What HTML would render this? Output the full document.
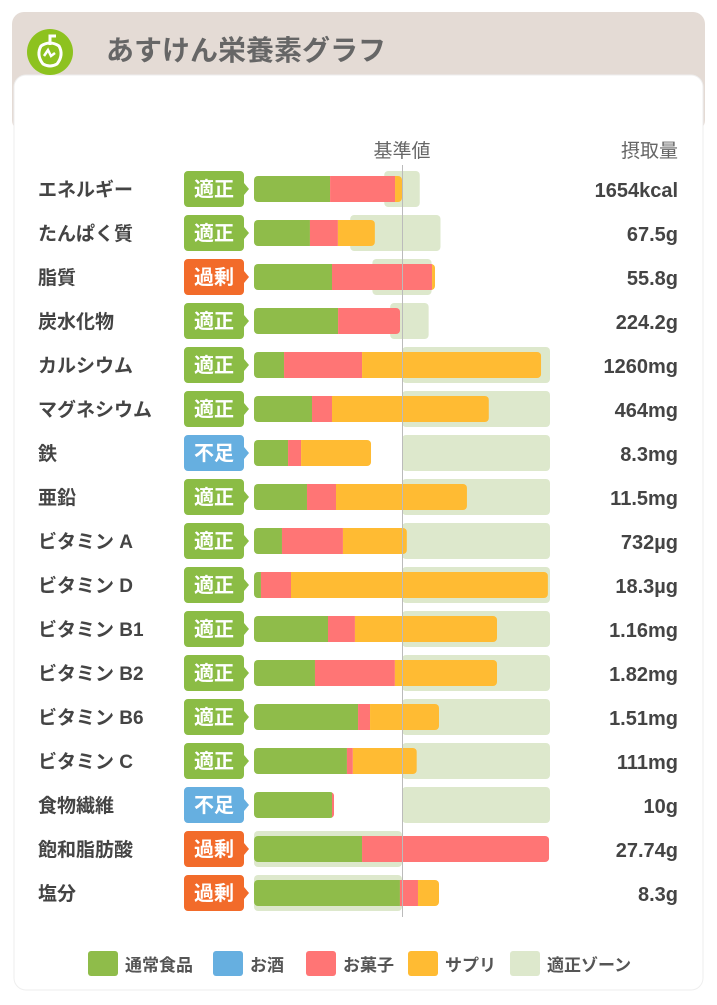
<!DOCTYPE html>
<html><head><meta charset="utf-8"><style>
body{margin:0;width:717px;height:1000px;background:#fff;overflow:hidden;font-family:"Liberation Sans","Noto Sans CJK JP",sans-serif;}
</style></head><body>
<svg id="chart" width="717" height="1000" xmlns="http://www.w3.org/2000/svg" style="font-family:'Liberation Sans','Noto Sans CJK JP',sans-serif">
<rect x="12" y="12" width="693" height="120" rx="12" fill="#e4dbd5"/>
<rect x="14" y="75" width="689" height="915" rx="12" fill="#fff" stroke="#eee"/>
<g>
<circle cx="50" cy="52" r="23" fill="#8dc21f"/>
<path d="M41 46 q9-6 18 0 q5 9-2 18 q-7 4-14 0 q-7-9-2-18z" fill="none" stroke="#fff" stroke-width="3"/>
<path d="M50 45 v-9 h6" fill="none" stroke="#fff" stroke-width="3"/>
<path d="M44 56 l4-6 l3 6 l4-3" fill="none" stroke="#fff" stroke-width="2.5"/>
</g>
<text x="106" y="60" font-size="28" fill="#666" font-weight="bold">あすけん栄養素グラフ</text>
<text x="402" y="157" font-size="19" fill="#666" text-anchor="middle">基準値</text>
<text x="678" y="157" font-size="19" fill="#666" text-anchor="end">摂取量</text>
<g id="rows"></g>
<line x1="402.5" y1="165" x2="402.5" y2="917" stroke="#bbb" stroke-width="1"/>
<g id="legend"></g>
</svg>
<script>
const names=["エネルギー","たんぱく質","脂質","炭水化物","カルシウム","マグネシウム","鉄","亜鉛","ビタミン A","ビタミン D","ビタミン B1","ビタミン B2","ビタミン B6","ビタミン C","食物繊維","飽和脂肪酸","塩分"];
const status=["適正","適正","過剰","適正","適正","適正","不足","適正","適正","適正","適正","適正","適正","適正","不足","過剰","過剰"];
const intake=["1654kcal","67.5g","55.8g","224.2g","1260mg","464mg","8.3mg","11.5mg","732µg","18.3µg","1.16mg","1.82mg","1.51mg","111mg","10g","27.74g","8.3g"];
const food=[51.4,37.8,52.7,56.8,20.3,39.2,23,35.8,18.9,4.7,50,41.2,70.3,62.8,52.7,73,98.6];
const alcohol=[0,0,0,0,0,0,0,0,0,0,0,0,0,0,0,0,0];
const sweets=[43.9,18.9,67.6,41.9,52.7,13.5,8.8,19.6,41.2,20.3,18.2,54,8.1,4,1.4,126.4,12.2];
const supp=[4.7,25,2,0,121,106,47.3,88.5,43.2,173.6,96,69,46.6,43.2,0,0,14.2];
const zoneMin=[88,65,80,92,100,100,100,100,100,100,100,100,100,100,100,0,0];
const zoneMax=[112,126,120,118,200,200,200,200,200,200,200,200,200,200,200,100,100];
const legendLabels=["通常食品","お酒","お菓子","サプリ","適正ゾーン"];

const NS="http://www.w3.org/2000/svg";
const X0=254,PX=148/100;
const xs=v=>X0+v*PX;
const rowY=i=>189+i*44;
const colors={food:"#8fbc4a",alcohol:"#66afe0",sweets:"#ff7575",supp:"#ffbb33",zone:"#dde8cc"};
const badgeCol={"適正":"#8bbc45","過剰":"#f26b2a","不足":"#66afe0"};
function mk(tag,attrs,parent){const e=document.createElementNS(NS,tag);for(const k in attrs)e.setAttribute(k,attrs[k]);parent.appendChild(e);return e;}
const rows=document.getElementById('rows');
names.forEach((n,i)=>{
  const y=rowY(i);
  const g=mk('g',{},rows);
  
  
  const t=mk('text',{x:38,y:y+7,'font-size':19,fill:'#444','font-weight':'bold'},g);t.textContent=n;
  
  
  const b=mk('path',{d:`M188 ${y-18} h52 a4 4 0 0 1 4 4 v8 l5 6 l-5 6 v8 a4 4 0 0 1 -4 4 h-52 a4 4 0 0 1 -4 -4 v-28 a4 4 0 0 1 4 -4z`,fill:badgeCol[status[i]]},g);
  
  
  const bt=mk('text',{x:214,y:y+7,'font-size':20,fill:'#fff','font-weight':'bold','text-anchor':'middle'},g);bt.textContent=status[i];
  
  
  const z=mk('rect',{x:xs(zoneMin[i]),y:y-18,width:xs(zoneMax[i])-xs(zoneMin[i]),height:36,rx:4,fill:colors.zone},g);
  
  
  const segs=[[food[i],colors.food,'food'],[alcohol[i],colors.alcohol,'alcohol'],[sweets[i],colors.sweets,'sweets'],[supp[i],colors.supp,'supplement']];
  let acc=0;const total=segs.reduce((s,a)=>s+a[0],0);
  const clip=mk('clipPath',{id:'c'+i},g);
  mk('rect',{x:X0,y:y-13,width:total*PX,height:26,rx:4},clip);
  const sg=mk('g',{'clip-path':`url(#c${i})`},g);
  segs.forEach(s=>{if(s[0]<=0)return;const r=mk('rect',{x:xs(acc),y:y-13,width:s[0]*PX,height:26,fill:s[1]},sg);
    
    
    acc+=s[0];});
  const vt=mk('text',{x:678,y:y+8,'font-size':20,fill:'#444','font-weight':'bold','text-anchor':'end'},g);vt.textContent=intake[i];
  
  
});
const lg=document.getElementById('legend');
const lx=[88,213,306,408,510];const lc=[colors.food,colors.alcohol,colors.sweets,colors.supp,colors.zone];
legendLabels.forEach((l,i)=>{
  const r=mk('rect',{x:lx[i],y:951,width:30,height:25,rx:3,fill:lc[i]},lg);
  
  
  const t=mk('text',{x:lx[i]+37,y:971,'font-size':17,fill:'#555','font-weight':'bold'},lg);t.textContent=l;
  
  
});
</script>
</body></html>
